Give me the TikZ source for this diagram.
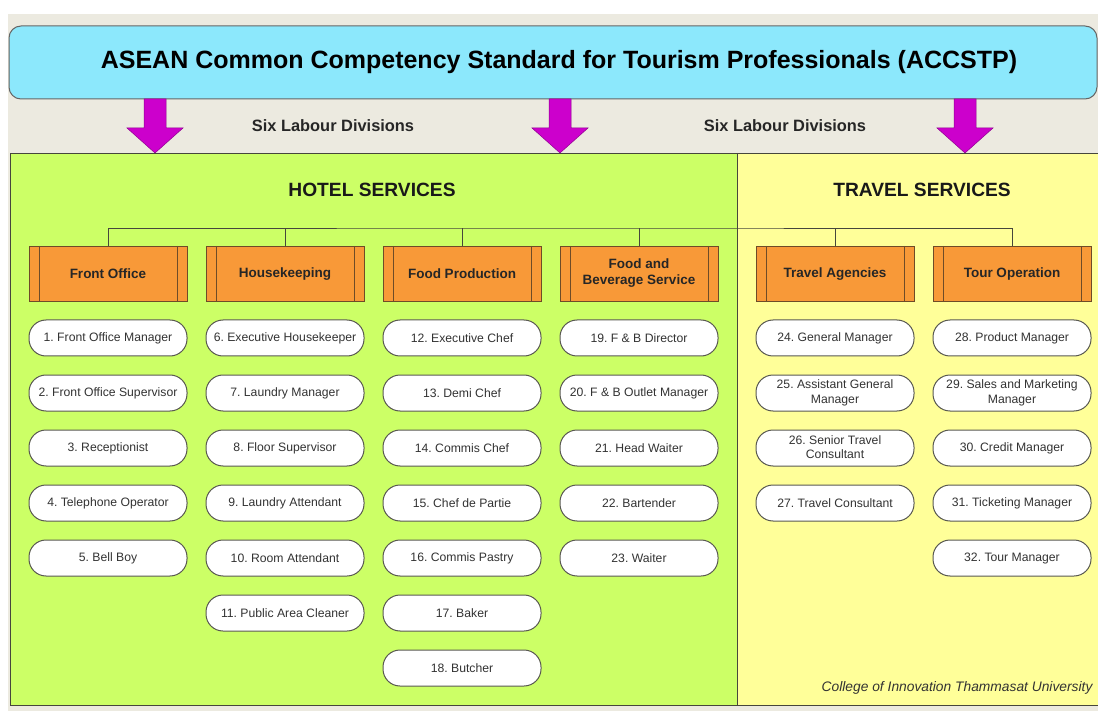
\documentclass[tikz,border=0pt]{standalone}
\usepackage{fontspec}
\setmainfont{Liberation Sans}
\usepackage{tikz}
\usetikzlibrary{positioning}
\frenchspacing

\definecolor{himmel}{RGB}{140,232,252}
\definecolor{hellgruen}{RGB}{204,255,102}
\definecolor{hellgelb}{RGB}{255,255,153}
\definecolor{orangekopf}{RGB}{248,153,56}
\definecolor{kopfrand}{RGB}{110,75,40}
\definecolor{lila}{RGB}{204,0,204}
\definecolor{beige}{RGB}{236,234,224}
\definecolor{rand}{RGB}{70,70,60}

\newcommand\zeilenstuetze{\rule[-0.15em]{0pt}{1em}}

\tikzset{
  kopf/.style={draw=kopfrand, fill=orangekopf, line width=0.9pt,
    minimum width=158pt, minimum height=55pt, align=center, inner sep=1pt,
    text=black!85, font=\fontsize{13.5}{16}\selectfont\bfseries,
    execute at begin node=\zeilenstuetze, execute at end node=\zeilenstuetze,
    path picture={
      \draw[kopfrand, line width=0.9pt]
        ([xshift=10pt]path picture bounding box.north west) --
        ([xshift=10pt]path picture bounding box.south west);
      \draw[kopfrand, line width=0.9pt]
        ([xshift=-10pt]path picture bounding box.north east) --
        ([xshift=-10pt]path picture bounding box.south east);
    }},
  stelle/.style={draw=rand!90, fill=white, line width=1pt, rounded corners=17pt,
    minimum width=158pt, minimum height=36pt, inner sep=1pt, align=center,
    text=black!80, font=\fontsize{12.2}{14.5}\selectfont,
    execute at begin node=\zeilenstuetze, execute at end node=\zeilenstuetze},
  linie/.style={draw=rand, line width=0.8pt},
  pfeil/.style={fill=lila, draw=lila!70!black, line width=0.5pt},
}

\begin{document}
\begin{tikzpicture}[x=1pt,y=-1pt]
            \useasboundingbox (0,0) rectangle (1098,711);
            \fill[white] (0,0) rectangle (1098,711);
            % Hintergrund
            \fill[beige] (8,14) rectangle (1098,711);
            \fill[hellgruen] (10,153) rectangle (737,705);
            \fill[hellgelb] (737,153) rectangle (1098,705);
            \draw[rand, line width=0.9pt] (1098,153) -- (10,153) -- (10,705) -- (1098,705);
            \draw[rand, line width=0.9pt] (737,153) -- (737,705);

            % Titel
            \node[draw=black!60, fill=himmel, line width=1pt, rounded corners=12pt,
              minimum width=1088pt, minimum height=73pt,
              font=\fontsize{25}{28}\selectfont\bfseries] (titel) at (553,62.5)
              {\hspace*{12pt}ASEAN Common Competency Standard for Tourism Professionals (ACCSTP)};

            % Pfeile
            \coordinate (p1) at (155,99);
            \coordinate (p2) at (560,99);
            \coordinate (p3) at (965,99);
            \draw[pfeil] (p1) ++(-11,0) -- ++(0,29) -- ++(-17,0) -- ++(28,25) -- ++(28,-25) -- ++(-17,0) -- ++(0,-29) -- cycle;
            \draw[pfeil] (p2) ++(-11,0) -- ++(0,29) -- ++(-17,0) -- ++(28,25) -- ++(28,-25) -- ++(-17,0) -- ++(0,-29) -- cycle;
            \draw[pfeil] (p3) ++(-11,0) -- ++(0,29) -- ++(-17,0) -- ++(28,25) -- ++(28,-25) -- ++(-17,0) -- ++(0,-29) -- cycle;

            \node[font=\fontsize{16.4}{18}\selectfont\bfseries, text=black!85] (sechs1) at (333,126) {Six Labour Divisions};
            \node[font=\fontsize{16.4}{18}\selectfont\bfseries, text=black!85] (sechs2) at (785,126) {Six Labour Divisions};

            \node[font=\fontsize{19.2}{22}\selectfont\bfseries, text=black!90] (hotel) at (372,190) {HOTEL SERVICES};
            \node[font=\fontsize{19.2}{22}\selectfont\bfseries, text=black!90] (reise) at (922,190) {TRAVEL SERVICES};

            % Abteilungen
            \node[kopf] (fo) at (108,273.5) {Front Office};
            \node[kopf] (hk) at (285,273.5) {Housekeeping};
            \node[kopf] (fp) at (462,273.5) {Food Production};
            \node[kopf] (fb) at (639,273.5) {Food and\\Beverage Service};
            \node[kopf] (ta) at (835,273.5) {Travel Agencies};
            \node[kopf] (to) at (1012,273.5) {Tour Operation};

            % Verbindungen
            \coordinate (bus) at (560,228);
            \draw[linie] (fo.north) |- (bus) -| (to.north);
            \draw[linie] (hk.north) -- (hk.north |- bus);
            \draw[linie] (fp.north) -- (fp.north |- bus);
            \draw[linie] (fb.north) -- (fb.north |- bus);
            \draw[linie] (ta.north) -- (ta.north |- bus);

            % Front Office
            \node[stelle] (s1) at (108,338) {1. Front Office Manager};
            \node[stelle] (s2) at (108,393) {2. Front Office Supervisor};
            \node[stelle] (s3) at (108,448) {3. Receptionist};
            \node[stelle] (s4) at (108,503) {4. Telephone Operator};
            \node[stelle] (s5) at (108,558) {5. Bell Boy};

            % Housekeeping
            \node[stelle] (s6) at (285,338) {6. Executive Housekeeper};
            \node[stelle] (s7) at (285,393) {7. Laundry Manager};
            \node[stelle] (s8) at (285,448) {8. Floor Supervisor};
            \node[stelle] (s9) at (285,503) {9. Laundry Attendant};
            \node[stelle] (s10) at (285,558) {10. Room Attendant};
            \node[stelle] (s11) at (285,613) {11. Public Area Cleaner};

            % Food Production
            \node[stelle] (s12) at (462,338) {12. Executive Chef};
            \node[stelle] (s13) at (462,393) {13. Demi Chef};
            \node[stelle] (s14) at (462,448) {14. Commis Chef};
            \node[stelle] (s15) at (462,503) {15. Chef de Partie};
            \node[stelle] (s16) at (462,558) {16. Commis Pastry};
            \node[stelle] (s17) at (462,613) {17. Baker};
            \node[stelle] (s18) at (462,668) {18. Butcher};

            % Food and Beverage
            \node[stelle] (s19) at (639,338) {19. F \& B Director};
            \node[stelle] (s20) at (639,393) {20. F \& B Outlet Manager};
            \node[stelle] (s21) at (639,448) {21. Head Waiter};
            \node[stelle] (s22) at (639,503) {22. Bartender};
            \node[stelle] (s23) at (639,558) {23. Waiter};

            % Travel Agencies
            \node[stelle] (s24) at (835,338) {24. General Manager};
            \node[stelle] (s25) at (835,393) {25. Assistant General\\Manager};
            \node[stelle] (s26) at (835,448) {26. Senior Travel\\Consultant};
            \node[stelle] (s27) at (835,503) {27. Travel Consultant};

            % Tour Operation
            \node[stelle] (s28) at (1012,338) {28. Product Manager};
            \node[stelle] (s29) at (1012,393) {29. Sales and Marketing\\Manager};
            \node[stelle] (s30) at (1012,448) {30. Credit Manager};
            \node[stelle] (s31) at (1012,503) {31. Ticketing Manager};
            \node[stelle] (s32) at (1012,558) {32. Tour Manager};

            \node[anchor=east, font=\fontsize{13.8}{15}\selectfont\itshape, text=black!80] (fuss) at (1096,688) {College of Innovation Thammasat University};

        \end{tikzpicture}
\end{document}
